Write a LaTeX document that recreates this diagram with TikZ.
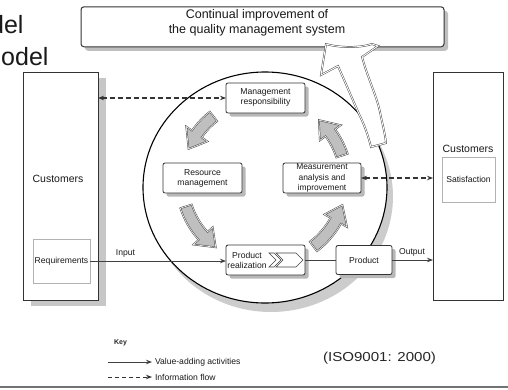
\documentclass[tikz,border=0pt]{standalone}
\usepackage{fontspec}
\usepackage{graphicx}
\setmainfont{Liberation Sans}
\usetikzlibrary{shadows,arrows.meta}

% curved block arrow on the inner ring: #1 tail angle, #2 tip angle
\newcommand\cyclearrow[2]{%
  \pgfmathsetmacro\headbase{#2+12}%
  \draw[cyc,shift={(264,181)}] (#1:76) arc[start angle=#1,end angle=\headbase,radius=76]
    -- (\headbase:69) -- (#2:82) -- (\headbase:95) -- (\headbase:88)
    arc[start angle=\headbase,end angle=#1,radius=88] -- cycle;}

\begin{document}
\begin{tikzpicture}[x=1pt,y=-1pt,
  every node/.style={inner sep=0pt,outer sep=0pt},
  txt/.style={font=\fontsize{8.6}{10}\selectfont,align=center,text=black!90},
  bigtxt/.style={font=\fontsize{10.5}{12}\selectfont,text=black!90},
  procbox/.style={draw=black!80,line width=0.8pt,rounded corners=2pt,fill=white,
    drop shadow={shadow xshift=3.5pt,shadow yshift=-3.5pt,fill=black!28,opacity=1}},
  custbox/.style={draw=black!80,line width=0.8pt,fill=white,minimum height=228pt},
  innerbox/.style={draw=black!30,line width=1pt,fill=white},
  tipS/.tip={Stealth[length=6pt,width=4.5pt]},
  dashlink/.style={draw=black!80,line width=1.6pt,dash pattern=on 5pt off 3pt,tipS-tipS},
  flow/.style={draw=black!75,line width=0.8pt},
  cyc/.style={fill=black!25,draw=black!75,line width=0.45pt,double=black!8,double distance=0.7pt},
  bigarrow/.style={fill=white,draw=black!75,line width=0.45pt,double=white,double distance=0.9pt},
  chev/.style={fill=white,draw=black!75,line width=0.6pt,line join=miter},
]
\useasboundingbox (0,0) rectangle (508,389);

% title fragments
\node[font=\fontsize{25}{25}\selectfont,anchor=base east,text=black!90] (t1) at (23.5,33) {del};
\node[font=\fontsize{25}{25}\selectfont,anchor=base east,text=black!90] (t2) at (48.5,65) {odel};

% process circle with its shadow
\fill[black!20] (271,196.5) ellipse [x radius=122, y radius=115.5];
\draw[line width=1.1pt,fill=white] (265,187.5) ellipse [x radius=122, y radius=115.5];

% customers
\node[custbox,minimum width=75pt,
  drop shadow={shadow xshift=8pt,shadow yshift=-6pt,fill=black!22,opacity=1}] (custL) at (60.5,186) {};
\node[bigtxt] (custLt) at (58,179) {Customers};
\node[innerbox,minimum width=57pt,minimum height=44pt] (req) at (61.5,261) {};
\node[txt] (reqt) at (req) {Requirements};

\node[custbox,minimum width=70pt] (custR) at (468,186) {};
\node[bigtxt] (custRt) at (468,149) {Customers};
\node[innerbox,minimum width=53pt,minimum height=45pt] (sat) at (468.5,179.5) {};
\node[txt] (satt) at (sat) {Satisfaction};

% continual improvement box
\node[draw=black!80,line width=1pt,rounded corners=3pt,fill=white,
  minimum width=363pt,minimum height=40pt,
  drop shadow={shadow xshift=4pt,shadow yshift=-4pt,fill=black!25,opacity=1}] (cip) at (262.5,26.8) {};
\node[txt,font=\fontsize{12.5}{14.5}\selectfont] (cipt) at (257,23)
  {Continual improvement of\\the quality management system};

% broad arrow rising from the circle into the improvement box
\filldraw[bigarrow] (326,44) .. controls (340,48) and (360,48) .. (372,44) -- (378,46) -- (362,57)
  -- (365,67) .. controls (372,88) and (378,100) .. (381,117)
  .. controls (383,126) and (385,134) .. (386,143) -- (371,147)
  .. controls (368,135) and (364,124) .. (359,114)
  .. controls (352,98) and (345,82) .. (338,66) -- (321,75) -- cycle;

% processes
\node[procbox,minimum width=79pt,minimum height=30pt] (mgmt) at (265.5,98) {};
\node[txt] (mgmtt) at (265.5,97.5) {Management\\responsibility};
\node[procbox,minimum width=79pt,minimum height=30pt] (res) at (202.5,178) {};
\node[txt] (rest) at (res) {Resource\\management};
\node[procbox,minimum width=78pt,minimum height=30pt] (meas) at (322,178) {};
\node[txt,font=\fontsize{8.4}{10.2}\selectfont] (meast) at (meas) {Measurement\\analysis and\\improvement};
\node[procbox,minimum width=79pt,minimum height=30pt] (prodreal) at (265.5,260) {};
\node[txt] (prodrealt) at (247,260.5) {Product\\realization};
\node[procbox,minimum width=56pt,minimum height=29pt] (product) at (364,260) {};
\node[txt] (productt) at (product) {Product};

% double chevron inside product realization
\draw[chev] (269,253) -- (274,253) -- (281,260) -- (274,267) -- (269,267) -- (276,260) -- cycle;
\draw[chev] (276,253) -- (296,253) -- (303,260) -- (296,267) -- (276,267) -- (283,260) -- cycle;

% improvement cycle
\cyclearrow{-128}{-157}
\cyclearrow{-198}{-234}
\cyclearrow{53}{17}
\cyclearrow{-18}{-48}

% information and product flows
\draw[dashlink] (custL.east |- mgmt.west) -- (mgmt.west);
\draw[dashlink] (meas.east) -- (custR.west |- meas.east);
\draw[flow,-tipS] (req.east) -- (req.east -| prodreal.west);
\node[txt,anchor=base] (inlbl) at (125.5,255) {Input};
\draw[flow] (prodreal.east) -- (product.west);
\draw[flow,-tipS] (product.east) -- (custR.west |- product.east);
\node[txt,anchor=base] (outlbl) at (412,254) {Output};

% key
\node[font=\bfseries\fontsize{7}{8}\selectfont,text=black!85] (key) at (120.5,343) {Key};
\coordinate (k1a) at (108,362);
\coordinate (k1b) at (152,362);
\coordinate (k2a) at (108,377);
\coordinate (k2b) at (152,377);
\draw[flow,-tipS] (k1a) -- (k1b);
\draw[draw=black!80,line width=0.9pt,dash pattern=on 4pt off 3pt,-tipS] (k2a) -- (k2b);
\node[txt,anchor=west] (k1t) at (155,362) {Value-adding activities};
\node[txt,anchor=west] (k2t) at (155,377) {Information flow};

\node[font=\fontsize{13}{15}\selectfont,text=black!85] (iso) at (379.5,358)
  {\scalebox{1.16}[1]{(ISO9001: 2000)}};

% rule along the bottom
\coordinate (bl) at (0,387);
\coordinate (br) at (508,387);
\draw[black!55,line width=1.3pt] (bl) -- (br);
\end{tikzpicture}
\end{document}
